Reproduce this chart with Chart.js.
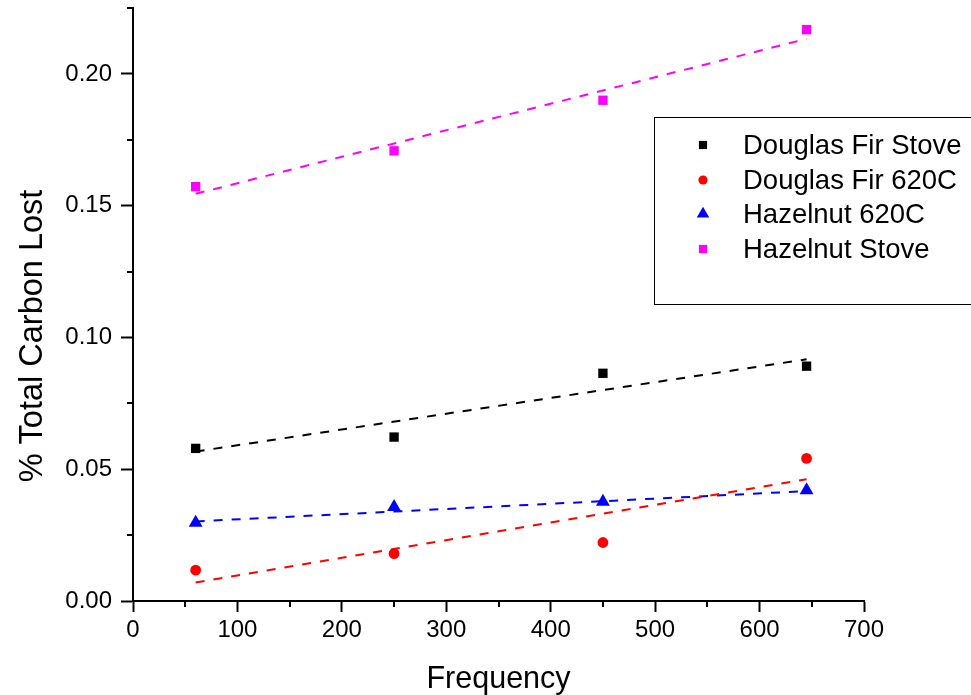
<!DOCTYPE html>
<html lang="en">
<head>
    <meta charset="UTF-8">
    <title>% Total Carbon Lost vs Frequency</title>
    <script src="https://cdn.jsdelivr.net/npm/chart.js"></script>
    <style>
        html, body { margin: 0; padding: 0; background: #fff; }
        canvas { display: block; }
    </style>
</head>
<body>
    <canvas id="carbonChart" width="971" height="695"></canvas>

    <script>
        // Dữ liệu
        const frequency = [60, 250, 450, 645];
        const seriesNames = ['Douglas Fir Stove', 'Douglas Fir 620C', 'Hazelnut 620C', 'Hazelnut Stove'];
        const dfStove = [0.0579, 0.0622, 0.0864, 0.0891];
        const df620 = [0.0117, 0.0180, 0.0222, 0.0541];
        const hz620 = [0.0297, 0.0357, 0.0377, 0.0420];
        const hzStove = [0.1572, 0.1708, 0.1900, 0.2168];

        // Đường hồi quy (đầu và cuối)
        const fitX = [60, 645];
        const dfStoveFit = [0.0567, 0.0917];
        const df620Fit = [0.0070, 0.0462];
        const hz620Fit = [0.0302, 0.0417];
        const hzStoveFit = [0.1545, 0.2133];

        const colors = ['#000000', '#ff0000', '#0000ff', '#ff00ff'];
        const styles = ['rect', 'circle', 'triangle', 'rect'];
        const radii = [6.6, 5.4, 8, 6.6];

        const FONT = '"Liberation Sans", Arial, sans-serif';
        const yTitle = '% Total Carbon Lost';

        function toPoints(xs, ys) {
            return xs.map((x, i) => ({ x: x, y: ys[i] }));
        }

        const pointSets = [dfStove, df620, hz620, hzStove];
        const fitSets = [dfStoveFit, df620Fit, hz620Fit, hzStoveFit];

        const datasets = [];
        fitSets.forEach((fit, i) => {
            datasets.push({
                label: seriesNames[i] + ' fit',
                data: toPoints(fitX, fit),
                showLine: true,
                borderColor: colors[i],
                borderWidth: 2,
                borderDash: [9, 9],
                pointRadius: 0,
                fill: false
            });
        });
        pointSets.forEach((vals, i) => {
            datasets.push({
                label: seriesNames[i],
                data: toPoints(frequency, vals),
                showLine: false,
                pointStyle: styles[i],
                pointRadius: radii[i],
                pointBackgroundColor: colors[i],
                pointBorderColor: colors[i],
                pointBorderWidth: 0
            });
        });

        const isMajorX = v => Math.round(v / 50) % 2 === 0;
        const isMajorY = v => Math.round(v / 0.025) % 2 === 0;

        // Vạch chia phụ (ngắn hơn)
        const minorTicks = {
            id: 'minorTicks',
            afterDraw(chart) {
                const { ctx, scales: { x, y } } = chart;
                ctx.save();
                ctx.strokeStyle = '#000';
                ctx.lineWidth = 2;
                ctx.beginPath();
                x.ticks.forEach(t => {
                    if (isMajorX(t.value)) return;
                    const px = Math.round(x.getPixelForValue(t.value));
                    ctx.moveTo(px, x.top);
                    ctx.lineTo(px, x.top + 6);
                });
                y.ticks.forEach(t => {
                    if (isMajorY(t.value)) return;
                    const py = Math.round(y.getPixelForValue(t.value));
                    ctx.moveTo(y.right, py);
                    ctx.lineTo(y.right - 6, py);
                });
                ctx.stroke();
                ctx.restore();
            }
        };

        // Tiêu đề trục y (lệch xuống như hình gốc)
        const yAxisTitle = {
            id: 'yAxisTitle',
            afterDraw(chart) {
                const ctx = chart.ctx;
                ctx.save();
                ctx.translate(33, 336);
                ctx.rotate(-Math.PI / 2);
                ctx.font = '32.5px ' + FONT;
                ctx.fillStyle = '#000';
                ctx.textAlign = 'center';
                ctx.textBaseline = 'middle';
                ctx.fillText(yTitle, 0, 0);
                ctx.restore();
            }
        };

        // Chú thích dạng hộp
        const boxLegend = {
            id: 'boxLegend',
            afterDraw(chart) {
                const ctx = chart.ctx;
                ctx.save();
                ctx.strokeStyle = '#000';
                ctx.lineWidth = 1;
                ctx.strokeRect(654.5, 117.5, 330, 187);
                ctx.font = '27.5px ' + FONT;
                ctx.textBaseline = 'middle';
                const rows = [145, 180, 214, 249];
                seriesNames.forEach((name, i) => {
                    ctx.fillStyle = colors[i];
                    Chart.helpers.drawPoint(ctx, {
                        pointStyle: styles[i],
                        radius: radii[i] - 0.8,
                        borderWidth: 0
                    }, 703, rows[i]);
                    ctx.fillStyle = '#000';
                    ctx.fillText(name, 743, rows[i] + 1);
                });
                ctx.restore();
            }
        };

        new Chart('carbonChart', {
            type: 'scatter',
            data: { datasets: datasets },
            options: {
                responsive: false,
                animation: false,
                events: [],
                layout: { padding: { top: 8, right: 107, left: 0, bottom: 0 } },
                plugins: {
                    legend: { display: false },
                    tooltip: { enabled: false }
                },
                scales: {
                    x: {
                        type: 'linear',
                        min: 0,
                        max: 700,
                        afterFit: s => { s.height = 94; s.paddingLeft = 0; s.paddingRight = 0; },
                        border: { display: true, color: '#000', width: 2 },
                        grid: {
                            drawOnChartArea: false,
                            tickLength: 11,
                            tickWidth: 2,
                            tickColor: c => isMajorX(c.tick.value) ? '#000' : 'rgba(0,0,0,0)'
                        },
                        ticks: {
                            stepSize: 50,
                            autoSkip: false,
                            maxRotation: 0,
                            padding: 4,
                            color: '#000',
                            font: { family: FONT, size: 24 },
                            callback: v => isMajorX(v) ? String(v) : ''
                        },
                        title: {
                            display: true,
                            text: 'Frequency',
                            color: '#000',
                            padding: 0,
                            font: { family: FONT, size: 30.5, lineHeight: 1 }
                        }
                    },
                    y: {
                        type: 'linear',
                        min: 0,
                        max: 0.225,
                        afterFit: s => { s.width = 133; s.paddingTop = 0; s.paddingBottom = 0; },
                        border: { display: true, color: '#000', width: 2 },
                        grid: {
                            drawOnChartArea: false,
                            tickLength: 12,
                            tickWidth: 2,
                            tickColor: c => isMajorY(c.tick.value) ? '#000' : 'rgba(0,0,0,0)'
                        },
                        ticks: {
                            stepSize: 0.025,
                            autoSkip: false,
                            padding: 9,
                            color: '#000',
                            font: { family: FONT, size: 24 },
                            callback: v => isMajorY(v) ? v.toFixed(2) : ''
                        }
                    }
                }
            },
            plugins: [minorTicks, yAxisTitle, boxLegend]
        });
    </script>
</body>
</html>
